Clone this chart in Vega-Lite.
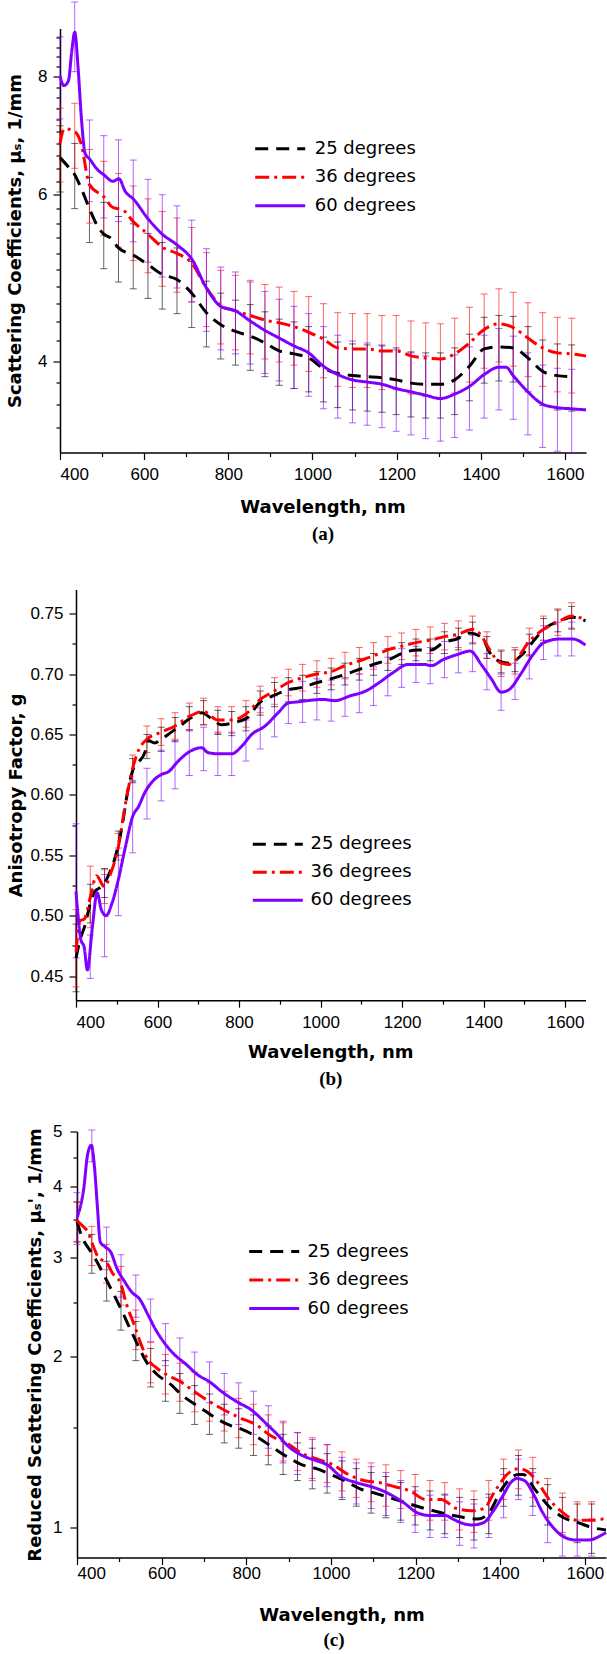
{
"$schema":"https://vega.github.io/schema/vega-lite/v6.json",
"usermeta":{"embedOptions":{"actions":false}},
"padding":{"left":0,"top":1.5,"right":0,"bottom":0},
"background":"white",
"spacing":33,
"bounds":"full",
"resolve":{"scale":{"color":"independent","strokeDash":"independent"},"legend":{"color":"independent","strokeDash":"independent"}},
"config":{
 "view":{"stroke":null},
 "concat":{"spacing":0},
 "axis":{"grid":false,"domainColor":"#000","domainWidth":1.5,"tickColor":"#000","tickWidth":1.2,"labelColor":"#000","labelFont":"Liberation Sans","labelFontSize":17,"titleColor":"#000","titleFont":"DejaVu Sans","titleFontSize":18,"titleFontWeight":"bold","labelOverlap":false},
 "legend":{"title":null,"orient":"none","symbolType":"M-2.5,0H2.5","symbolSize":400,"symbolStrokeWidth":3,"labelFont":"DejaVu Sans","labelFontSize":18,"labelColor":"#000","padding":0},
 "title":{"font":"DejaVu Sans","fontWeight":"bold","fontSize":18,"color":"#000","subtitleFont":"Liberation Serif","subtitleFontWeight":"bold","subtitleFontSize":19,"subtitleColor":"#000","orient":"bottom","anchor":"middle","frame":"group"},
 "line":{"strokeWidth":3,"interpolate":"monotone"},
 "rule":{"strokeWidth":1},
 "tick":{"thickness":1}
},
"datasets":{
"aErr":[
{"s":"25","w":400,"lo":6.04,"hi":7.1},{"s":"25","w":435,"lo":5.8,"hi":6.8},{"s":"25","w":470,"lo":5.34,"hi":6.26},{"s":"25","w":504,"lo":5.01,"hi":5.89},{"s":"25","w":539,"lo":4.85,"hi":5.69},{"s":"25","w":574,"lo":4.77,"hi":5.59},{"s":"25","w":609,"lo":4.66,"hi":5.46},{"s":"25","w":643,"lo":4.54,"hi":5.34},{"s":"25","w":678,"lo":4.49,"hi":5.27},{"s":"25","w":713,"lo":4.34,"hi":5.1},{"s":"25","w":748,"lo":4.14,"hi":4.86},{"s":"25","w":782,"lo":4.02,"hi":4.72},{"s":"25","w":817,"lo":3.96,"hi":4.64},{"s":"25","w":852,"lo":3.91,"hi":4.59},{"s":"25","w":887,"lo":3.85,"hi":4.51},{"s":"25","w":921,"lo":3.77,"hi":4.43},{"s":"25","w":956,"lo":3.74,"hi":4.4},{"s":"25","w":991,"lo":3.71,"hi":4.35},{"s":"25","w":1026,"lo":3.62,"hi":4.24},{"s":"25","w":1060,"lo":3.57,"hi":4.19},{"s":"25","w":1095,"lo":3.55,"hi":4.17},{"s":"25","w":1130,"lo":3.54,"hi":4.16},{"s":"25","w":1165,"lo":3.53,"hi":4.15},{"s":"25","w":1199,"lo":3.51,"hi":4.13},{"s":"25","w":1234,"lo":3.49,"hi":4.09},{"s":"25","w":1269,"lo":3.48,"hi":4.08},{"s":"25","w":1304,"lo":3.48,"hi":4.08},{"s":"25","w":1338,"lo":3.51,"hi":4.13},{"s":"25","w":1373,"lo":3.63,"hi":4.27},{"s":"25","w":1408,"lo":3.79,"hi":4.45},{"s":"25","w":1443,"lo":3.81,"hi":4.47},{"s":"25","w":1477,"lo":3.8,"hi":4.46},{"s":"25","w":1512,"lo":3.71,"hi":4.35},{"s":"25","w":1547,"lo":3.59,"hi":4.21},{"s":"25","w":1582,"lo":3.55,"hi":4.17},{"s":"25","w":1616,"lo":3.54,"hi":4.16},
{"s":"36","w":400,"lo":6.19,"hi":7.41},{"s":"36","w":435,"lo":6.4,"hi":7.5},{"s":"36","w":470,"lo":5.6,"hi":6.7},{"s":"36","w":504,"lo":5.43,"hi":6.51},{"s":"36","w":539,"lo":5.28,"hi":6.32},{"s":"36","w":574,"lo":5.11,"hi":6.13},{"s":"36","w":609,"lo":4.96,"hi":5.94},{"s":"36","w":643,"lo":4.8,"hi":5.76},{"s":"36","w":678,"lo":4.73,"hi":5.67},{"s":"36","w":713,"lo":4.62,"hi":5.54},{"s":"36","w":748,"lo":4.35,"hi":5.21},{"s":"36","w":782,"lo":4.17,"hi":4.99},{"s":"36","w":817,"lo":4.11,"hi":4.93},{"s":"36","w":852,"lo":4.07,"hi":4.87},{"s":"36","w":887,"lo":4.02,"hi":4.82},{"s":"36","w":921,"lo":3.99,"hi":4.79},{"s":"36","w":956,"lo":3.96,"hi":4.74},{"s":"36","w":991,"lo":3.9,"hi":4.68},{"s":"36","w":1026,"lo":3.84,"hi":4.6},{"s":"36","w":1060,"lo":3.76,"hi":4.5},{"s":"36","w":1095,"lo":3.75,"hi":4.49},{"s":"36","w":1130,"lo":3.75,"hi":4.49},{"s":"36","w":1165,"lo":3.73,"hi":4.47},{"s":"36","w":1199,"lo":3.73,"hi":4.47},{"s":"36","w":1234,"lo":3.69,"hi":4.41},{"s":"36","w":1269,"lo":3.67,"hi":4.39},{"s":"36","w":1304,"lo":3.66,"hi":4.38},{"s":"36","w":1338,"lo":3.7,"hi":4.44},{"s":"36","w":1373,"lo":3.8,"hi":4.56},{"s":"36","w":1408,"lo":3.93,"hi":4.71},{"s":"36","w":1443,"lo":3.99,"hi":4.77},{"s":"36","w":1477,"lo":3.95,"hi":4.73},{"s":"36","w":1512,"lo":3.85,"hi":4.61},{"s":"36","w":1547,"lo":3.76,"hi":4.5},{"s":"36","w":1582,"lo":3.71,"hi":4.45},{"s":"36","w":1616,"lo":3.7,"hi":4.44},
{"s":"60","w":400,"lo":7.22,"hi":8.82},{"s":"60","w":435,"lo":8.1,"hi":9.6},{"s":"60","w":470,"lo":5.9,"hi":7.2},{"s":"60","w":504,"lo":5.67,"hi":6.93},{"s":"60","w":539,"lo":5.62,"hi":6.86},{"s":"60","w":574,"lo":5.35,"hi":6.53},{"s":"60","w":609,"lo":5.09,"hi":6.23},{"s":"60","w":643,"lo":4.91,"hi":6.0},{"s":"60","w":678,"lo":4.78,"hi":5.84},{"s":"60","w":713,"lo":4.62,"hi":5.64},{"s":"60","w":748,"lo":4.3,"hi":5.26},{"s":"60","w":782,"lo":4.11,"hi":5.03},{"s":"60","w":817,"lo":4.07,"hi":4.97},{"s":"60","w":852,"lo":3.97,"hi":4.85},{"s":"60","w":887,"lo":3.88,"hi":4.74},{"s":"60","w":921,"lo":3.81,"hi":4.65},{"s":"60","w":956,"lo":3.74,"hi":4.57},{"s":"60","w":991,"lo":3.67,"hi":4.49},{"s":"60","w":1026,"lo":3.56,"hi":4.35},{"s":"60","w":1060,"lo":3.48,"hi":4.26},{"s":"60","w":1095,"lo":3.44,"hi":4.2},{"s":"60","w":1130,"lo":3.42,"hi":4.18},{"s":"60","w":1165,"lo":3.4,"hi":4.16},{"s":"60","w":1199,"lo":3.37,"hi":4.11},{"s":"60","w":1234,"lo":3.34,"hi":4.08},{"s":"60","w":1269,"lo":3.31,"hi":4.05},{"s":"60","w":1304,"lo":3.29,"hi":4.02},{"s":"60","w":1338,"lo":3.32,"hi":4.06},{"s":"60","w":1373,"lo":3.38,"hi":4.14},{"s":"60","w":1408,"lo":3.48,"hi":4.26},{"s":"60","w":1443,"lo":3.55,"hi":4.33},{"s":"60","w":1477,"lo":3.47,"hi":4.25},{"s":"60","w":1512,"lo":3.34,"hi":4.08},{"s":"60","w":1547,"lo":3.24,"hi":3.96},{"s":"60","w":1582,"lo":3.21,"hi":3.93},{"s":"60","w":1616,"lo":3.2,"hi":3.92}
],
"aLine":[
{"s":"25","w":400,"v":6.57},{"s":"25","w":420,"v":6.42},{"s":"25","w":435,"v":6.3},{"s":"25","w":450,"v":6.1},{"s":"25","w":470,"v":5.8},{"s":"25","w":490,"v":5.55},{"s":"25","w":504,"v":5.45},{"s":"25","w":520,"v":5.4},{"s":"25","w":539,"v":5.27},{"s":"25","w":574,"v":5.18},{"s":"25","w":609,"v":5.06},{"s":"25","w":643,"v":4.94},{"s":"25","w":678,"v":4.88},{"s":"25","w":713,"v":4.72},{"s":"25","w":748,"v":4.5},{"s":"25","w":782,"v":4.37},{"s":"25","w":817,"v":4.3},{"s":"25","w":852,"v":4.25},{"s":"25","w":887,"v":4.18},{"s":"25","w":921,"v":4.1},{"s":"25","w":956,"v":4.07},{"s":"25","w":991,"v":4.03},{"s":"25","w":1026,"v":3.93},{"s":"25","w":1060,"v":3.88},{"s":"25","w":1095,"v":3.86},{"s":"25","w":1130,"v":3.85},{"s":"25","w":1165,"v":3.84},{"s":"25","w":1199,"v":3.82},{"s":"25","w":1234,"v":3.79},{"s":"25","w":1269,"v":3.78},{"s":"25","w":1304,"v":3.78},{"s":"25","w":1338,"v":3.82},{"s":"25","w":1373,"v":3.95},{"s":"25","w":1408,"v":4.12},{"s":"25","w":1443,"v":4.14},{"s":"25","w":1477,"v":4.13},{"s":"25","w":1512,"v":4.03},{"s":"25","w":1547,"v":3.9},{"s":"25","w":1582,"v":3.86},{"s":"25","w":1616,"v":3.85},
{"s":"36","w":400,"v":6.8},{"s":"36","w":410,"v":7.05},{"s":"36","w":435,"v":7.0},{"s":"36","w":450,"v":6.8},{"s":"36","w":470,"v":6.15},{"s":"36","w":504,"v":5.97},{"s":"36","w":525,"v":5.82},{"s":"36","w":550,"v":5.78},{"s":"36","w":574,"v":5.62},{"s":"36","w":609,"v":5.45},{"s":"36","w":643,"v":5.28},{"s":"36","w":678,"v":5.2},{"s":"36","w":713,"v":5.08},{"s":"36","w":748,"v":4.78},{"s":"36","w":782,"v":4.58},{"s":"36","w":817,"v":4.52},{"s":"36","w":852,"v":4.47},{"s":"36","w":887,"v":4.42},{"s":"36","w":921,"v":4.39},{"s":"36","w":956,"v":4.35},{"s":"36","w":991,"v":4.29},{"s":"36","w":1026,"v":4.22},{"s":"36","w":1060,"v":4.13},{"s":"36","w":1095,"v":4.12},{"s":"36","w":1130,"v":4.12},{"s":"36","w":1165,"v":4.1},{"s":"36","w":1199,"v":4.1},{"s":"36","w":1234,"v":4.05},{"s":"36","w":1269,"v":4.03},{"s":"36","w":1304,"v":4.02},{"s":"36","w":1338,"v":4.07},{"s":"36","w":1373,"v":4.18},{"s":"36","w":1408,"v":4.32},{"s":"36","w":1443,"v":4.38},{"s":"36","w":1477,"v":4.34},{"s":"36","w":1512,"v":4.23},{"s":"36","w":1547,"v":4.13},{"s":"36","w":1582,"v":4.08},{"s":"36","w":1616,"v":4.07},{"s":"36","w":1650,"v":4.05},
{"s":"60","w":400,"v":8.02},{"s":"60","w":409,"v":7.83},{"s":"60","w":420,"v":7.92},{"s":"60","w":428,"v":8.52},{"s":"60","w":435,"v":8.92},{"s":"60","w":443,"v":8.18},{"s":"60","w":450,"v":7.32},{"s":"60","w":460,"v":6.63},{"s":"60","w":470,"v":6.55},{"s":"60","w":489,"v":6.38},{"s":"60","w":504,"v":6.3},{"s":"60","w":526,"v":6.2},{"s":"60","w":540,"v":6.24},{"s":"60","w":555,"v":6.05},{"s":"60","w":574,"v":5.94},{"s":"60","w":609,"v":5.66},{"s":"60","w":643,"v":5.45},{"s":"60","w":678,"v":5.31},{"s":"60","w":713,"v":5.13},{"s":"60","w":748,"v":4.78},{"s":"60","w":782,"v":4.57},{"s":"60","w":817,"v":4.52},{"s":"60","w":852,"v":4.41},{"s":"60","w":887,"v":4.31},{"s":"60","w":921,"v":4.23},{"s":"60","w":956,"v":4.15},{"s":"60","w":991,"v":4.08},{"s":"60","w":1026,"v":3.95},{"s":"60","w":1060,"v":3.87},{"s":"60","w":1095,"v":3.82},{"s":"60","w":1130,"v":3.8},{"s":"60","w":1165,"v":3.78},{"s":"60","w":1199,"v":3.74},{"s":"60","w":1234,"v":3.71},{"s":"60","w":1269,"v":3.68},{"s":"60","w":1304,"v":3.65},{"s":"60","w":1338,"v":3.69},{"s":"60","w":1373,"v":3.76},{"s":"60","w":1408,"v":3.87},{"s":"60","w":1443,"v":3.94},{"s":"60","w":1460,"v":3.94},{"s":"60","w":1477,"v":3.86},{"s":"60","w":1512,"v":3.71},{"s":"60","w":1547,"v":3.6},{"s":"60","w":1582,"v":3.57},{"s":"60","w":1616,"v":3.56},{"s":"60","w":1650,"v":3.55}
],
"bErr":[
{"s":"25","w":400,"lo":0.437,"hi":0.493},{"s":"25","w":435,"lo":0.494,"hi":0.526},{"s":"25","w":470,"lo":0.515,"hi":0.539},{"s":"25","w":504,"lo":0.55,"hi":0.57},{"s":"25","w":539,"lo":0.61,"hi":0.63},{"s":"25","w":574,"lo":0.63,"hi":0.65},{"s":"25","w":609,"lo":0.636,"hi":0.656},{"s":"25","w":643,"lo":0.644,"hi":0.664},{"s":"25","w":678,"lo":0.653,"hi":0.673},{"s":"25","w":713,"lo":0.658,"hi":0.678},{"s":"25","w":748,"lo":0.65,"hi":0.67},{"s":"25","w":782,"lo":0.649,"hi":0.669},{"s":"25","w":817,"lo":0.653,"hi":0.673},{"s":"25","w":852,"lo":0.666,"hi":0.686},{"s":"25","w":887,"lo":0.673,"hi":0.693},{"s":"25","w":921,"lo":0.677,"hi":0.697},{"s":"25","w":956,"lo":0.679,"hi":0.699},{"s":"25","w":991,"lo":0.684,"hi":0.702},{"s":"25","w":1026,"lo":0.687,"hi":0.705},{"s":"25","w":1060,"lo":0.691,"hi":0.709},{"s":"25","w":1095,"lo":0.695,"hi":0.713},{"s":"25","w":1130,"lo":0.699,"hi":0.717},{"s":"25","w":1165,"lo":0.703,"hi":0.721},{"s":"25","w":1199,"lo":0.708,"hi":0.726},{"s":"25","w":1234,"lo":0.711,"hi":0.729},{"s":"25","w":1269,"lo":0.711,"hi":0.729},{"s":"25","w":1304,"lo":0.717,"hi":0.735},{"s":"25","w":1338,"lo":0.72,"hi":0.738},{"s":"25","w":1373,"lo":0.725,"hi":0.743},{"s":"25","w":1408,"lo":0.713,"hi":0.731},{"s":"25","w":1443,"lo":0.701,"hi":0.719},{"s":"25","w":1477,"lo":0.702,"hi":0.72},{"s":"25","w":1512,"lo":0.715,"hi":0.733},{"s":"25","w":1547,"lo":0.728,"hi":0.746},{"s":"25","w":1582,"lo":0.735,"hi":0.753},{"s":"25","w":1616,"lo":0.738,"hi":0.756},
{"s":"36","w":400,"lo":0.441,"hi":0.505},{"s":"36","w":435,"lo":0.49,"hi":0.541},{"s":"36","w":470,"lo":0.51,"hi":0.538},{"s":"36","w":504,"lo":0.546,"hi":0.568},{"s":"36","w":539,"lo":0.611,"hi":0.633},{"s":"36","w":574,"lo":0.635,"hi":0.657},{"s":"36","w":609,"lo":0.641,"hi":0.663},{"s":"36","w":643,"lo":0.646,"hi":0.668},{"s":"36","w":678,"lo":0.654,"hi":0.676},{"s":"36","w":713,"lo":0.658,"hi":0.68},{"s":"36","w":748,"lo":0.651,"hi":0.673},{"s":"36","w":782,"lo":0.651,"hi":0.673},{"s":"36","w":817,"lo":0.656,"hi":0.678},{"s":"36","w":852,"lo":0.668,"hi":0.69},{"s":"36","w":887,"lo":0.675,"hi":0.697},{"s":"36","w":921,"lo":0.682,"hi":0.704},{"s":"36","w":956,"lo":0.686,"hi":0.708},{"s":"36","w":991,"lo":0.689,"hi":0.711},{"s":"36","w":1026,"lo":0.691,"hi":0.713},{"s":"36","w":1060,"lo":0.696,"hi":0.718},{"s":"36","w":1095,"lo":0.7,"hi":0.722},{"s":"36","w":1130,"lo":0.704,"hi":0.726},{"s":"36","w":1165,"lo":0.709,"hi":0.731},{"s":"36","w":1199,"lo":0.712,"hi":0.734},{"s":"36","w":1234,"lo":0.715,"hi":0.737},{"s":"36","w":1269,"lo":0.717,"hi":0.739},{"s":"36","w":1304,"lo":0.72,"hi":0.742},{"s":"36","w":1338,"lo":0.722,"hi":0.744},{"s":"36","w":1373,"lo":0.726,"hi":0.748},{"s":"36","w":1408,"lo":0.713,"hi":0.735},{"s":"36","w":1443,"lo":0.698,"hi":0.72},{"s":"36","w":1477,"lo":0.7,"hi":0.722},{"s":"36","w":1512,"lo":0.716,"hi":0.738},{"s":"36","w":1547,"lo":0.726,"hi":0.748},{"s":"36","w":1582,"lo":0.732,"hi":0.754},{"s":"36","w":1616,"lo":0.737,"hi":0.759},
{"s":"60","w":400,"lo":0.465,"hi":0.576},{"s":"60","w":435,"lo":0.448,"hi":0.484},{"s":"60","w":470,"lo":0.466,"hi":0.534},{"s":"60","w":504,"lo":0.5,"hi":0.556},{"s":"60","w":539,"lo":0.552,"hi":0.612},{"s":"60","w":574,"lo":0.58,"hi":0.622},{"s":"60","w":609,"lo":0.595,"hi":0.637},{"s":"60","w":643,"lo":0.605,"hi":0.645},{"s":"60","w":678,"lo":0.616,"hi":0.654},{"s":"60","w":713,"lo":0.62,"hi":0.656},{"s":"60","w":748,"lo":0.616,"hi":0.652},{"s":"60","w":782,"lo":0.616,"hi":0.652},{"s":"60","w":817,"lo":0.628,"hi":0.662},{"s":"60","w":852,"lo":0.638,"hi":0.672},{"s":"60","w":887,"lo":0.648,"hi":0.682},{"s":"60","w":921,"lo":0.659,"hi":0.693},{"s":"60","w":956,"lo":0.66,"hi":0.694},{"s":"60","w":991,"lo":0.662,"hi":0.696},{"s":"60","w":1026,"lo":0.661,"hi":0.695},{"s":"60","w":1060,"lo":0.665,"hi":0.697},{"s":"60","w":1095,"lo":0.668,"hi":0.7},{"s":"60","w":1130,"lo":0.674,"hi":0.706},{"s":"60","w":1165,"lo":0.682,"hi":0.714},{"s":"60","w":1199,"lo":0.689,"hi":0.721},{"s":"60","w":1234,"lo":0.693,"hi":0.723},{"s":"60","w":1269,"lo":0.692,"hi":0.722},{"s":"60","w":1304,"lo":0.697,"hi":0.727},{"s":"60","w":1338,"lo":0.701,"hi":0.731},{"s":"60","w":1373,"lo":0.702,"hi":0.732},{"s":"60","w":1408,"lo":0.687,"hi":0.717},{"s":"60","w":1443,"lo":0.67,"hi":0.7},{"s":"60","w":1477,"lo":0.679,"hi":0.709},{"s":"60","w":1512,"lo":0.696,"hi":0.726},{"s":"60","w":1547,"lo":0.712,"hi":0.74},{"s":"60","w":1582,"lo":0.715,"hi":0.743},{"s":"60","w":1616,"lo":0.715,"hi":0.743}
],
"bLine":[
{"s":"25","w":400,"v":0.465},{"s":"25","w":410,"v":0.48},{"s":"25","w":422,"v":0.492},{"s":"25","w":435,"v":0.51},{"s":"25","w":446,"v":0.52},{"s":"25","w":458,"v":0.523},{"s":"25","w":470,"v":0.527},{"s":"25","w":479,"v":0.533},{"s":"25","w":495,"v":0.547},{"s":"25","w":512,"v":0.572},{"s":"25","w":528,"v":0.605},{"s":"25","w":540,"v":0.621},{"s":"25","w":553,"v":0.627},{"s":"25","w":569,"v":0.635},{"s":"25","w":577,"v":0.645},{"s":"25","w":593,"v":0.643},{"s":"25","w":610,"v":0.646},{"s":"25","w":626,"v":0.65},{"s":"25","w":651,"v":0.656},{"s":"25","w":683,"v":0.664},{"s":"25","w":708,"v":0.668},{"s":"25","w":733,"v":0.663},{"s":"25","w":757,"v":0.658},{"s":"25","w":790,"v":0.66},{"s":"25","w":821,"v":0.664},{"s":"25","w":849,"v":0.676},{"s":"25","w":883,"v":0.682},{"s":"25","w":921,"v":0.687},{"s":"25","w":955,"v":0.689},{"s":"25","w":992,"v":0.693},{"s":"25","w":1025,"v":0.696},{"s":"25","w":1063,"v":0.7},{"s":"25","w":1096,"v":0.704},{"s":"25","w":1130,"v":0.708},{"s":"25","w":1168,"v":0.712},{"s":"25","w":1206,"v":0.718},{"s":"25","w":1239,"v":0.72},{"s":"25","w":1272,"v":0.72},{"s":"25","w":1301,"v":0.726},{"s":"25","w":1334,"v":0.729},{"s":"25","w":1367,"v":0.734},{"s":"25","w":1396,"v":0.73},{"s":"25","w":1415,"v":0.718},{"s":"25","w":1443,"v":0.71},{"s":"25","w":1462,"v":0.709},{"s":"25","w":1491,"v":0.715},{"s":"25","w":1519,"v":0.726},{"s":"25","w":1548,"v":0.737},{"s":"25","w":1586,"v":0.744},{"s":"25","w":1619,"v":0.747},{"s":"25","w":1650,"v":0.744},
{"s":"36","w":400,"v":0.47},{"s":"36","w":410,"v":0.496},{"s":"36","w":420,"v":0.497},{"s":"36","w":435,"v":0.515},{"s":"36","w":450,"v":0.533},{"s":"36","w":470,"v":0.524},{"s":"36","w":485,"v":0.535},{"s":"36","w":504,"v":0.557},{"s":"36","w":520,"v":0.59},{"s":"36","w":539,"v":0.622},{"s":"36","w":555,"v":0.638},{"s":"36","w":574,"v":0.646},{"s":"36","w":609,"v":0.652},{"s":"36","w":643,"v":0.657},{"s":"36","w":678,"v":0.665},{"s":"36","w":713,"v":0.669},{"s":"36","w":748,"v":0.662},{"s":"36","w":782,"v":0.662},{"s":"36","w":817,"v":0.667},{"s":"36","w":852,"v":0.679},{"s":"36","w":887,"v":0.686},{"s":"36","w":921,"v":0.693},{"s":"36","w":956,"v":0.697},{"s":"36","w":991,"v":0.7},{"s":"36","w":1026,"v":0.702},{"s":"36","w":1060,"v":0.707},{"s":"36","w":1095,"v":0.711},{"s":"36","w":1130,"v":0.715},{"s":"36","w":1165,"v":0.72},{"s":"36","w":1199,"v":0.723},{"s":"36","w":1234,"v":0.726},{"s":"36","w":1269,"v":0.728},{"s":"36","w":1304,"v":0.731},{"s":"36","w":1338,"v":0.733},{"s":"36","w":1373,"v":0.737},{"s":"36","w":1396,"v":0.731},{"s":"36","w":1408,"v":0.724},{"s":"36","w":1443,"v":0.709},{"s":"36","w":1462,"v":0.708},{"s":"36","w":1477,"v":0.711},{"s":"36","w":1512,"v":0.727},{"s":"36","w":1547,"v":0.737},{"s":"36","w":1582,"v":0.743},{"s":"36","w":1616,"v":0.748},{"s":"36","w":1650,"v":0.745},
{"s":"60","w":400,"v":0.52},{"s":"60","w":405,"v":0.5},{"s":"60","w":412,"v":0.48},{"s":"60","w":420,"v":0.474},{"s":"60","w":428,"v":0.455},{"s":"60","w":440,"v":0.49},{"s":"60","w":452,"v":0.519},{"s":"60","w":462,"v":0.505},{"s":"60","w":474,"v":0.5},{"s":"60","w":488,"v":0.51},{"s":"60","w":504,"v":0.53},{"s":"60","w":520,"v":0.555},{"s":"60","w":540,"v":0.583},{"s":"60","w":553,"v":0.59},{"s":"60","w":569,"v":0.602},{"s":"60","w":585,"v":0.61},{"s":"60","w":610,"v":0.617},{"s":"60","w":626,"v":0.619},{"s":"60","w":651,"v":0.628},{"s":"60","w":675,"v":0.635},{"s":"60","w":708,"v":0.639},{"s":"60","w":724,"v":0.635},{"s":"60","w":749,"v":0.634},{"s":"60","w":782,"v":0.634},{"s":"60","w":806,"v":0.64},{"s":"60","w":831,"v":0.65},{"s":"60","w":864,"v":0.657},{"s":"60","w":896,"v":0.668},{"s":"60","w":921,"v":0.676},{"s":"60","w":945,"v":0.677},{"s":"60","w":968,"v":0.678},{"s":"60","w":1006,"v":0.679},{"s":"60","w":1035,"v":0.678},{"s":"60","w":1073,"v":0.682},{"s":"60","w":1111,"v":0.686},{"s":"60","w":1144,"v":0.693},{"s":"60","w":1177,"v":0.701},{"s":"60","w":1215,"v":0.708},{"s":"60","w":1253,"v":0.708},{"s":"60","w":1272,"v":0.707},{"s":"60","w":1301,"v":0.712},{"s":"60","w":1334,"v":0.716},{"s":"60","w":1367,"v":0.719},{"s":"60","w":1396,"v":0.707},{"s":"60","w":1419,"v":0.696},{"s":"60","w":1443,"v":0.685},{"s":"60","w":1462,"v":0.687},{"s":"60","w":1491,"v":0.7},{"s":"60","w":1519,"v":0.715},{"s":"60","w":1548,"v":0.726},{"s":"60","w":1586,"v":0.729},{"s":"60","w":1619,"v":0.729},{"s":"60","w":1650,"v":0.724}
],
"cErr":[
{"s":"25","w":400,"lo":3.19,"hi":3.75},{"s":"25","w":435,"lo":2.81,"hi":3.29},{"s":"25","w":470,"lo":2.51,"hi":2.95},{"s":"25","w":504,"lo":2.23,"hi":2.61},{"s":"25","w":539,"lo":1.97,"hi":2.31},{"s":"25","w":574,"lo":1.77,"hi":2.07},{"s":"25","w":609,"lo":1.67,"hi":1.97},{"s":"25","w":643,"lo":1.59,"hi":1.87},{"s":"25","w":678,"lo":1.52,"hi":1.78},{"s":"25","w":713,"lo":1.46,"hi":1.72},{"s":"25","w":748,"lo":1.41,"hi":1.65},{"s":"25","w":782,"lo":1.38,"hi":1.62},{"s":"25","w":817,"lo":1.34,"hi":1.58},{"s":"25","w":852,"lo":1.29,"hi":1.51},{"s":"25","w":887,"lo":1.24,"hi":1.46},{"s":"25","w":921,"lo":1.21,"hi":1.41},{"s":"25","w":956,"lo":1.17,"hi":1.38},{"s":"25","w":991,"lo":1.15,"hi":1.35},{"s":"25","w":1026,"lo":1.12,"hi":1.31},{"s":"25","w":1060,"lo":1.09,"hi":1.27},{"s":"25","w":1095,"lo":1.06,"hi":1.25},{"s":"25","w":1130,"lo":1.04,"hi":1.23},{"s":"25","w":1165,"lo":1.03,"hi":1.2},{"s":"25","w":1199,"lo":1.01,"hi":1.18},{"s":"25","w":1234,"lo":0.99,"hi":1.16},{"s":"25","w":1269,"lo":0.975,"hi":1.145},{"s":"25","w":1304,"lo":0.96,"hi":1.13},{"s":"25","w":1338,"lo":0.95,"hi":1.12},{"s":"25","w":1373,"lo":0.975,"hi":1.145},{"s":"25","w":1408,"lo":1.09,"hi":1.27},{"s":"25","w":1443,"lo":1.14,"hi":1.34},{"s":"25","w":1477,"lo":1.09,"hi":1.27},{"s":"25","w":1512,"lo":1.01,"hi":1.19},{"s":"25","w":1547,"lo":0.97,"hi":1.13},{"s":"25","w":1582,"lo":0.94,"hi":1.1},{"s":"25","w":1616,"lo":0.9,"hi":1.1},
{"s":"36","w":400,"lo":3.2,"hi":3.76},{"s":"36","w":435,"lo":2.9,"hi":3.4},{"s":"36","w":470,"lo":2.7,"hi":3.16},{"s":"36","w":504,"lo":2.47,"hi":2.89},{"s":"36","w":539,"lo":2.06,"hi":2.42},{"s":"36","w":574,"lo":1.8,"hi":2.12},{"s":"36","w":609,"lo":1.72,"hi":2.02},{"s":"36","w":643,"lo":1.67,"hi":1.95},{"s":"36","w":678,"lo":1.6,"hi":1.88},{"s":"36","w":713,"lo":1.54,"hi":1.8},{"s":"36","w":748,"lo":1.48,"hi":1.74},{"s":"36","w":782,"lo":1.44,"hi":1.69},{"s":"36","w":817,"lo":1.4,"hi":1.65},{"s":"36","w":852,"lo":1.34,"hi":1.58},{"s":"36","w":887,"lo":1.31,"hi":1.53},{"s":"36","w":921,"lo":1.26,"hi":1.47},{"s":"36","w":956,"lo":1.22,"hi":1.44},{"s":"36","w":991,"lo":1.2,"hi":1.4},{"s":"36","w":1026,"lo":1.16,"hi":1.36},{"s":"36","w":1060,"lo":1.13,"hi":1.32},{"s":"36","w":1095,"lo":1.11,"hi":1.3},{"s":"36","w":1130,"lo":1.09,"hi":1.29},{"s":"36","w":1165,"lo":1.08,"hi":1.26},{"s":"36","w":1199,"lo":1.05,"hi":1.24},{"s":"36","w":1234,"lo":1.03,"hi":1.21},{"s":"36","w":1269,"lo":1.03,"hi":1.2},{"s":"36","w":1304,"lo":0.99,"hi":1.17},{"s":"36","w":1338,"lo":0.98,"hi":1.16},{"s":"36","w":1373,"lo":1.03,"hi":1.21},{"s":"36","w":1408,"lo":1.12,"hi":1.32},{"s":"36","w":1443,"lo":1.17,"hi":1.37},{"s":"36","w":1477,"lo":1.13,"hi":1.33},{"s":"36","w":1512,"lo":1.04,"hi":1.22},{"s":"36","w":1547,"lo":0.98,"hi":1.15},{"s":"36","w":1582,"lo":0.95,"hi":1.11},{"s":"36","w":1616,"lo":0.95,"hi":1.11},
{"s":"60","w":400,"lo":3.16,"hi":3.9},{"s":"60","w":435,"lo":4.42,"hi":5.03},{"s":"60","w":470,"lo":2.85,"hi":3.39},{"s":"60","w":504,"lo":2.55,"hi":3.03},{"s":"60","w":539,"lo":2.35,"hi":2.79},{"s":"60","w":574,"lo":2.13,"hi":2.53},{"s":"60","w":609,"lo":1.93,"hi":2.29},{"s":"60","w":643,"lo":1.82,"hi":2.16},{"s":"60","w":678,"lo":1.72,"hi":2.04},{"s":"60","w":713,"lo":1.66,"hi":1.96},{"s":"60","w":748,"lo":1.58,"hi":1.87},{"s":"60","w":782,"lo":1.52,"hi":1.8},{"s":"60","w":817,"lo":1.46,"hi":1.74},{"s":"60","w":852,"lo":1.38,"hi":1.64},{"s":"60","w":887,"lo":1.3,"hi":1.54},{"s":"60","w":921,"lo":1.24,"hi":1.47},{"s":"60","w":956,"lo":1.21,"hi":1.43},{"s":"60","w":991,"lo":1.18,"hi":1.4},{"s":"60","w":1026,"lo":1.13,"hi":1.33},{"s":"60","w":1060,"lo":1.1,"hi":1.3},{"s":"60","w":1095,"lo":1.08,"hi":1.28},{"s":"60","w":1130,"lo":1.05,"hi":1.25},{"s":"60","w":1165,"lo":1.02,"hi":1.21},{"s":"60","w":1199,"lo":0.98,"hi":1.16},{"s":"60","w":1234,"lo":0.96,"hi":1.14},{"s":"60","w":1269,"lo":0.96,"hi":1.14},{"s":"60","w":1304,"lo":0.93,"hi":1.11},{"s":"60","w":1338,"lo":0.92,"hi":1.1},{"s":"60","w":1373,"lo":0.96,"hi":1.13},{"s":"60","w":1408,"lo":1.04,"hi":1.24},{"s":"60","w":1443,"lo":1.12,"hi":1.32},{"s":"60","w":1477,"lo":1.05,"hi":1.25},{"s":"60","w":1512,"lo":0.94,"hi":1.12},{"s":"60","w":1547,"lo":0.89,"hi":1.05},{"s":"60","w":1582,"lo":0.89,"hi":1.03},{"s":"60","w":1616,"lo":0.89,"hi":1.035}
],
"cLine":[
{"s":"25","w":400,"v":3.47},{"s":"25","w":409,"v":3.3},{"s":"25","w":435,"v":3.05},{"s":"25","w":441,"v":3.0},{"s":"25","w":470,"v":2.73},{"s":"25","w":505,"v":2.42},{"s":"25","w":537,"v":2.15},{"s":"25","w":568,"v":1.94},{"s":"25","w":590,"v":1.86},{"s":"25","w":617,"v":1.8},{"s":"25","w":653,"v":1.7},{"s":"25","w":690,"v":1.63},{"s":"25","w":722,"v":1.57},{"s":"25","w":756,"v":1.52},{"s":"25","w":790,"v":1.49},{"s":"25","w":822,"v":1.45},{"s":"25","w":859,"v":1.39},{"s":"25","w":891,"v":1.34},{"s":"25","w":932,"v":1.29},{"s":"25","w":966,"v":1.27},{"s":"25","w":1000,"v":1.24},{"s":"25","w":1032,"v":1.21},{"s":"25","w":1069,"v":1.17},{"s":"25","w":1103,"v":1.15},{"s":"25","w":1137,"v":1.13},{"s":"25","w":1169,"v":1.11},{"s":"25","w":1222,"v":1.08},{"s":"25","w":1289,"v":1.05},{"s":"25","w":1347,"v":1.035},{"s":"25","w":1373,"v":1.06},{"s":"25","w":1404,"v":1.17},{"s":"25","w":1443,"v":1.24},{"s":"25","w":1455,"v":1.24},{"s":"25","w":1481,"v":1.17},{"s":"25","w":1520,"v":1.08},{"s":"25","w":1550,"v":1.04},{"s":"25","w":1584,"v":1.02},{"s":"25","w":1616,"v":1.0},{"s":"25","w":1650,"v":0.99},
{"s":"36","w":400,"v":3.48},{"s":"36","w":416,"v":3.39},{"s":"36","w":425,"v":3.33},{"s":"36","w":439,"v":3.13},{"s":"36","w":450,"v":3.0},{"s":"36","w":461,"v":2.96},{"s":"36","w":472,"v":2.92},{"s":"36","w":484,"v":2.81},{"s":"36","w":503,"v":2.7},{"s":"36","w":516,"v":2.49},{"s":"36","w":535,"v":2.28},{"s":"36","w":553,"v":2.09},{"s":"36","w":567,"v":1.98},{"s":"36","w":585,"v":1.92},{"s":"36","w":612,"v":1.86},{"s":"36","w":644,"v":1.81},{"s":"36","w":676,"v":1.74},{"s":"36","w":712,"v":1.67},{"s":"36","w":749,"v":1.61},{"s":"36","w":786,"v":1.56},{"s":"36","w":822,"v":1.52},{"s":"36","w":859,"v":1.45},{"s":"36","w":895,"v":1.41},{"s":"36","w":932,"v":1.35},{"s":"36","w":968,"v":1.32},{"s":"36","w":1005,"v":1.29},{"s":"36","w":1041,"v":1.24},{"s":"36","w":1078,"v":1.21},{"s":"36","w":1114,"v":1.2},{"s":"36","w":1151,"v":1.18},{"s":"36","w":1187,"v":1.16},{"s":"36","w":1224,"v":1.12},{"s":"36","w":1260,"v":1.12},{"s":"36","w":1297,"v":1.08},{"s":"36","w":1333,"v":1.07},{"s":"36","w":1361,"v":1.08},{"s":"36","w":1388,"v":1.16},{"s":"36","w":1416,"v":1.24},{"s":"36","w":1443,"v":1.27},{"s":"36","w":1461,"v":1.26},{"s":"36","w":1489,"v":1.2},{"s":"36","w":1516,"v":1.12},{"s":"36","w":1543,"v":1.07},{"s":"36","w":1580,"v":1.03},{"s":"36","w":1625,"v":1.03},{"s":"36","w":1650,"v":1.04},
{"s":"60","w":400,"v":3.52},{"s":"60","w":416,"v":3.97},{"s":"60","w":425,"v":4.55},{"s":"60","w":434,"v":4.73},{"s":"60","w":441,"v":4.35},{"s":"60","w":448,"v":3.7},{"s":"60","w":455,"v":3.19},{"s":"60","w":466,"v":3.13},{"s":"60","w":480,"v":3.06},{"s":"60","w":494,"v":2.87},{"s":"60","w":512,"v":2.72},{"s":"60","w":530,"v":2.6},{"s":"60","w":548,"v":2.53},{"s":"60","w":567,"v":2.38},{"s":"60","w":585,"v":2.24},{"s":"60","w":608,"v":2.11},{"s":"60","w":630,"v":2.02},{"s":"60","w":658,"v":1.94},{"s":"60","w":685,"v":1.86},{"s":"60","w":712,"v":1.81},{"s":"60","w":745,"v":1.73},{"s":"60","w":776,"v":1.67},{"s":"60","w":813,"v":1.61},{"s":"60","w":849,"v":1.52},{"s":"60","w":877,"v":1.45},{"s":"60","w":895,"v":1.4},{"s":"60","w":932,"v":1.34},{"s":"60","w":968,"v":1.31},{"s":"60","w":991,"v":1.29},{"s":"60","w":1023,"v":1.23},{"s":"60","w":1060,"v":1.2},{"s":"60","w":1096,"v":1.18},{"s":"60","w":1123,"v":1.16},{"s":"60","w":1169,"v":1.11},{"s":"60","w":1206,"v":1.06},{"s":"60","w":1233,"v":1.05},{"s":"60","w":1270,"v":1.05},{"s":"60","w":1288,"v":1.035},{"s":"60","w":1306,"v":1.02},{"s":"60","w":1333,"v":1.01},{"s":"60","w":1361,"v":1.02},{"s":"60","w":1384,"v":1.07},{"s":"60","w":1407,"v":1.14},{"s":"60","w":1425,"v":1.2},{"s":"60","w":1439,"v":1.22},{"s":"60","w":1457,"v":1.21},{"s":"60","w":1480,"v":1.14},{"s":"60","w":1498,"v":1.07},{"s":"60","w":1525,"v":1.0},{"s":"60","w":1553,"v":0.96},{"s":"60","w":1580,"v":0.95},{"s":"60","w":1607,"v":0.95},{"s":"60","w":1635,"v":0.965},{"s":"60","w":1650,"v":0.98}
]
},
"vconcat":[
{"resolve":{"scale":{"color":"independent","strokeDash":"independent"},"legend":{"color":"independent","strokeDash":"independent"}},
"hconcat":[
{"width":5.8,"height":10,"data":{"values":[{"z":0}]},"mark":{"type":"point","opacity":0}},
{
 "width":526,"height":424,
 "title":{"text":"Wavelength, nm","subtitle":["(a)\u00a0\u00a0\u00a0"," "],"offset":16.2,"subtitlePadding":7.8,"subtitleLineHeight":12.7},
 "resolve":{"axis":{"x":"independent","y":"independent"}},
 "layer":[
  {"data":{"name":"aErr"},"transform":[{"filter":"datum.s=='25'"}],"mark":{"type":"rule","color":"#000000","opacity":0.6},
   "encoding":{
    "x":{"field":"w","type":"quantitative","scale":{"domain":[400,1650],"nice":false,"zero":false},"axis":{"orient":"bottom","values":[400,600,800,1000,1200,1400,1600],"format":"d","tickSize":7,"labelPadding":7,"title":null}},
    "y":{"field":"lo","type":"quantitative","scale":{"type":"log","domain":[3.2,9],"nice":false},"axis":{"orient":"left","values":[4,6,8],"format":"d","tickSize":7,"labelPadding":6,"title":"Scattering Coefficients, μₛ, 1/mm","titlePadding":13}},
    "y2":{"field":"hi"}}},
  {"data":{"name":"aErr"},"transform":[{"filter":"datum.s=='36'"}],"mark":{"type":"rule","color":"#ff0000","opacity":0.6},
   "encoding":{
    "x":{"field":"w","type":"quantitative","axis":{"orient":"bottom","values":[500,700,900,1100,1300,1500],"tickSize":4,"labels":false,"domain":false,"title":null}},
    "y":{"field":"lo","type":"quantitative","axis":{"orient":"left","values":[3.4,3.6,3.8,4.2,4.4,4.6,4.8,5,5.2,5.4,5.6,5.8,6.2,6.4,6.6,6.8,7,7.2,7.4,7.6,7.8,8.2,8.4,8.6,8.8],"tickSize":4,"labels":false,"domain":false,"title":null}},
    "y2":{"field":"hi"}}},
  {"data":{"name":"aErr"},"transform":[{"filter":"datum.s=='60'"}],"mark":{"type":"rule","color":"#7f00ff","opacity":0.6},
   "encoding":{"x":{"field":"w","type":"quantitative","axis":null},"y":{"field":"lo","type":"quantitative","axis":null},"y2":{"field":"hi"}}},
  {"data":{"name":"aErr"},"transform":[{"filter":"datum.s=='25'"}],"mark":{"type":"tick","orient":"horizontal","size":7,"color":"#000000","opacity":0.6},
   "encoding":{"x":{"field":"w","type":"quantitative","axis":null},"y":{"field":"lo","type":"quantitative","axis":null}}},
  {"data":{"name":"aErr"},"transform":[{"filter":"datum.s=='25'"}],"mark":{"type":"tick","orient":"horizontal","size":7,"color":"#000000","opacity":0.6},
   "encoding":{"x":{"field":"w","type":"quantitative","axis":null},"y":{"field":"hi","type":"quantitative","axis":null}}},
  {"data":{"name":"aErr"},"transform":[{"filter":"datum.s=='36'"}],"mark":{"type":"tick","orient":"horizontal","size":7,"color":"#ff0000","opacity":0.6},
   "encoding":{"x":{"field":"w","type":"quantitative","axis":null},"y":{"field":"lo","type":"quantitative","axis":null}}},
  {"data":{"name":"aErr"},"transform":[{"filter":"datum.s=='36'"}],"mark":{"type":"tick","orient":"horizontal","size":7,"color":"#ff0000","opacity":0.6},
   "encoding":{"x":{"field":"w","type":"quantitative","axis":null},"y":{"field":"hi","type":"quantitative","axis":null}}},
  {"data":{"name":"aErr"},"transform":[{"filter":"datum.s=='60'"}],"mark":{"type":"tick","orient":"horizontal","size":7,"color":"#7f00ff","opacity":0.6},
   "encoding":{"x":{"field":"w","type":"quantitative","axis":null},"y":{"field":"lo","type":"quantitative","axis":null}}},
  {"data":{"name":"aErr"},"transform":[{"filter":"datum.s=='60'"}],"mark":{"type":"tick","orient":"horizontal","size":7,"color":"#7f00ff","opacity":0.6},
   "encoding":{"x":{"field":"w","type":"quantitative","axis":null},"y":{"field":"hi","type":"quantitative","axis":null}}},
  {"data":{"name":"aLine"},"mark":{"type":"line"},
   "encoding":{
    "x":{"field":"w","type":"quantitative","axis":null},
    "y":{"field":"v","type":"quantitative","axis":null},
    "color":{"field":"s","type":"nominal","scale":{"domain":["25","36","60"],"range":["#000000","#ff0000","#7f00ff"]},"legend":{"legendX":208.7,"legendY":108.7,"labelOffset":23,"rowPadding":7.5,"labelExpr":"datum.label + ' degrees'"}},
    "strokeDash":{"field":"s","type":"nominal","scale":{"domain":["25","36","60"],"range":[[13,8],[14,5,3,5],[1,0]]},"legend":{"legendX":208.7,"legendY":108.7,"labelOffset":23,"rowPadding":7.5,"labelExpr":"datum.label + ' degrees'"}}}}
 ]
}]},
{"resolve":{"scale":{"color":"independent","strokeDash":"independent"},"legend":{"color":"independent","strokeDash":"independent"}},
"hconcat":[
{"width":6.4,"height":10,"data":{"values":[{"z":0}]},"mark":{"type":"point","opacity":0}},
{
 "width":509.5,"height":410.7,
 "title":{"text":"Wavelength, nm","subtitle":"(b)\u00a0\u00a0\u00a0","offset":14.2,"subtitlePadding":7.8},
 "resolve":{"axis":{"x":"independent","y":"independent"}},
 "layer":[
  {"data":{"name":"bErr"},"transform":[{"filter":"datum.s=='25'"}],"mark":{"type":"rule","color":"#000000","opacity":0.6},
   "encoding":{
    "x":{"field":"w","type":"quantitative","scale":{"domain":[400,1650],"nice":false,"zero":false},"axis":{"orient":"bottom","values":[400,600,800,1000,1200,1400,1600],"format":"d","tickSize":7,"labelPadding":7,"title":null}},
    "y":{"field":"lo","type":"quantitative","scale":{"domain":[0.43,0.77],"nice":false,"zero":false},"axis":{"orient":"left","values":[0.45,0.5,0.55,0.6,0.65,0.7,0.75],"format":".2f","tickSize":7,"labelPadding":6,"title":"Anisotropy Factor, g","titlePadding":4}},
    "y2":{"field":"hi"}}},
  {"data":{"name":"bErr"},"transform":[{"filter":"datum.s=='36'"}],"mark":{"type":"rule","color":"#ff0000","opacity":0.6},
   "encoding":{
    "x":{"field":"w","type":"quantitative","axis":{"orient":"bottom","values":[500,700,900,1100,1300,1500],"tickSize":4,"labels":false,"domain":false,"title":null}},
    "y":{"field":"lo","type":"quantitative","axis":{"orient":"left","values":[0.475,0.525,0.575,0.625,0.675,0.725],"tickSize":4,"labels":false,"domain":false,"title":null}},
    "y2":{"field":"hi"}}},
  {"data":{"name":"bErr"},"transform":[{"filter":"datum.s=='60'"}],"mark":{"type":"rule","color":"#7f00ff","opacity":0.6},
   "encoding":{"x":{"field":"w","type":"quantitative","axis":null},"y":{"field":"lo","type":"quantitative","axis":null},"y2":{"field":"hi"}}},
  {"data":{"name":"bErr"},"transform":[{"filter":"datum.s=='25'"}],"mark":{"type":"tick","orient":"horizontal","size":7,"color":"#000000","opacity":0.6},
   "encoding":{"x":{"field":"w","type":"quantitative","axis":null},"y":{"field":"lo","type":"quantitative","axis":null}}},
  {"data":{"name":"bErr"},"transform":[{"filter":"datum.s=='25'"}],"mark":{"type":"tick","orient":"horizontal","size":7,"color":"#000000","opacity":0.6},
   "encoding":{"x":{"field":"w","type":"quantitative","axis":null},"y":{"field":"hi","type":"quantitative","axis":null}}},
  {"data":{"name":"bErr"},"transform":[{"filter":"datum.s=='36'"}],"mark":{"type":"tick","orient":"horizontal","size":7,"color":"#ff0000","opacity":0.6},
   "encoding":{"x":{"field":"w","type":"quantitative","axis":null},"y":{"field":"lo","type":"quantitative","axis":null}}},
  {"data":{"name":"bErr"},"transform":[{"filter":"datum.s=='36'"}],"mark":{"type":"tick","orient":"horizontal","size":7,"color":"#ff0000","opacity":0.6},
   "encoding":{"x":{"field":"w","type":"quantitative","axis":null},"y":{"field":"hi","type":"quantitative","axis":null}}},
  {"data":{"name":"bErr"},"transform":[{"filter":"datum.s=='60'"}],"mark":{"type":"tick","orient":"horizontal","size":7,"color":"#7f00ff","opacity":0.6},
   "encoding":{"x":{"field":"w","type":"quantitative","axis":null},"y":{"field":"lo","type":"quantitative","axis":null}}},
  {"data":{"name":"bErr"},"transform":[{"filter":"datum.s=='60'"}],"mark":{"type":"tick","orient":"horizontal","size":7,"color":"#7f00ff","opacity":0.6},
   "encoding":{"x":{"field":"w","type":"quantitative","axis":null},"y":{"field":"hi","type":"quantitative","axis":null}}},
  {"data":{"name":"bLine"},"mark":{"type":"line"},
   "encoding":{
    "x":{"field":"w","type":"quantitative","axis":null},
    "y":{"field":"v","type":"quantitative","axis":null},
    "color":{"field":"s","type":"nominal","scale":{"domain":["25","36","60"],"range":["#000000","#ff0000","#7f00ff"]},"legend":{"legendX":190.3,"legendY":243.3,"labelOffset":21.2,"rowPadding":7,"labelExpr":"datum.label + ' degrees'"}},
    "strokeDash":{"field":"s","type":"nominal","scale":{"domain":["25","36","60"],"range":[[13,8],[14,5,3,5],[1,0]]},"legend":{"legendX":190.3,"legendY":243.3,"labelOffset":21.2,"rowPadding":7,"labelExpr":"datum.label + ' degrees'"}}}}
 ]
}]},
{"resolve":{"scale":{"color":"independent","strokeDash":"independent"},"legend":{"color":"independent","strokeDash":"independent"}},
"hconcat":[
{"width":26,"height":10,"data":{"values":[{"z":0}]},"mark":{"type":"point","opacity":0}},
{
 "width":529,"height":426,
 "resolve":{"axis":{"x":"independent","y":"independent"}},
 "layer":[
  {"data":{"name":"cErr"},"transform":[{"filter":"datum.s=='25'"}],"mark":{"type":"rule","color":"#000000","opacity":0.6},
   "encoding":{
    "x":{"field":"w","type":"quantitative","scale":{"domain":[400,1650],"nice":false,"zero":false},"axis":{"orient":"bottom","values":[400,600,800,1000,1200,1400,1600],"format":"d","tickSize":7,"labelPadding":1,"title":"Wavelength, nm","titleY":49}},
    "y":{"field":"lo","type":"quantitative","scale":{"type":"log","domain":[0.885,5],"nice":false},"axis":{"orient":"left","values":[1,2,3,4,5],"format":"d","tickSize":7,"labelPadding":8,"title":"Reduced Scattering Coefficients, μₛ', 1/mm","titlePadding":8}},
    "y2":{"field":"hi"}}},
  {"data":{"name":"cErr"},"transform":[{"filter":"datum.s=='36'"}],"mark":{"type":"rule","color":"#ff0000","opacity":0.6},
   "encoding":{
    "x":{"field":"w","type":"quantitative","axis":{"orient":"bottom","values":[500,700,900,1100,1300,1500],"tickSize":4,"labels":false,"domain":false,"title":"(c)","titleY":73,"titleX":256.5,"titleFont":"Liberation Serif","titleFontSize":19,"titleFontWeight":"bold"}},
    "y":{"field":"lo","type":"quantitative","axis":{"orient":"left","values":[1.5,2.5,3.5,4.5],"tickSize":4,"labels":false,"domain":false,"title":null}},
    "y2":{"field":"hi"}}},
  {"data":{"name":"cErr"},"transform":[{"filter":"datum.s=='60'"}],"mark":{"type":"rule","color":"#7f00ff","opacity":0.6},
   "encoding":{"x":{"field":"w","type":"quantitative","axis":null},"y":{"field":"lo","type":"quantitative","axis":null},"y2":{"field":"hi"}}},
  {"data":{"name":"cErr"},"transform":[{"filter":"datum.s=='25'"}],"mark":{"type":"tick","orient":"horizontal","size":7,"color":"#000000","opacity":0.6},
   "encoding":{"x":{"field":"w","type":"quantitative","axis":null},"y":{"field":"lo","type":"quantitative","axis":null}}},
  {"data":{"name":"cErr"},"transform":[{"filter":"datum.s=='25'"}],"mark":{"type":"tick","orient":"horizontal","size":7,"color":"#000000","opacity":0.6},
   "encoding":{"x":{"field":"w","type":"quantitative","axis":null},"y":{"field":"hi","type":"quantitative","axis":null}}},
  {"data":{"name":"cErr"},"transform":[{"filter":"datum.s=='36'"}],"mark":{"type":"tick","orient":"horizontal","size":7,"color":"#ff0000","opacity":0.6},
   "encoding":{"x":{"field":"w","type":"quantitative","axis":null},"y":{"field":"lo","type":"quantitative","axis":null}}},
  {"data":{"name":"cErr"},"transform":[{"filter":"datum.s=='36'"}],"mark":{"type":"tick","orient":"horizontal","size":7,"color":"#ff0000","opacity":0.6},
   "encoding":{"x":{"field":"w","type":"quantitative","axis":null},"y":{"field":"hi","type":"quantitative","axis":null}}},
  {"data":{"name":"cErr"},"transform":[{"filter":"datum.s=='60'"}],"mark":{"type":"tick","orient":"horizontal","size":7,"color":"#7f00ff","opacity":0.6},
   "encoding":{"x":{"field":"w","type":"quantitative","axis":null},"y":{"field":"lo","type":"quantitative","axis":null}}},
  {"data":{"name":"cErr"},"transform":[{"filter":"datum.s=='60'"}],"mark":{"type":"tick","orient":"horizontal","size":7,"color":"#7f00ff","opacity":0.6},
   "encoding":{"x":{"field":"w","type":"quantitative","axis":null},"y":{"field":"hi","type":"quantitative","axis":null}}},
  {"data":{"name":"cLine"},"mark":{"type":"line"},
   "encoding":{
    "x":{"field":"w","type":"quantitative","axis":null},
    "y":{"field":"v","type":"quantitative","axis":null},
    "color":{"field":"s","type":"nominal","scale":{"domain":["25","36","60"],"range":["#000000","#ff0000","#7f00ff"]},"legend":{"legendX":185.7,"legendY":108.6,"labelOffset":21.8,"rowPadding":7.5,"labelExpr":"datum.label + ' degrees'"}},
    "strokeDash":{"field":"s","type":"nominal","scale":{"domain":["25","36","60"],"range":[[13,8],[14,5,3,5],[1,0]]},"legend":{"legendX":185.7,"legendY":108.6,"labelOffset":21.8,"rowPadding":7.5,"labelExpr":"datum.label + ' degrees'"}}}}
 ]
}]}
]
}
